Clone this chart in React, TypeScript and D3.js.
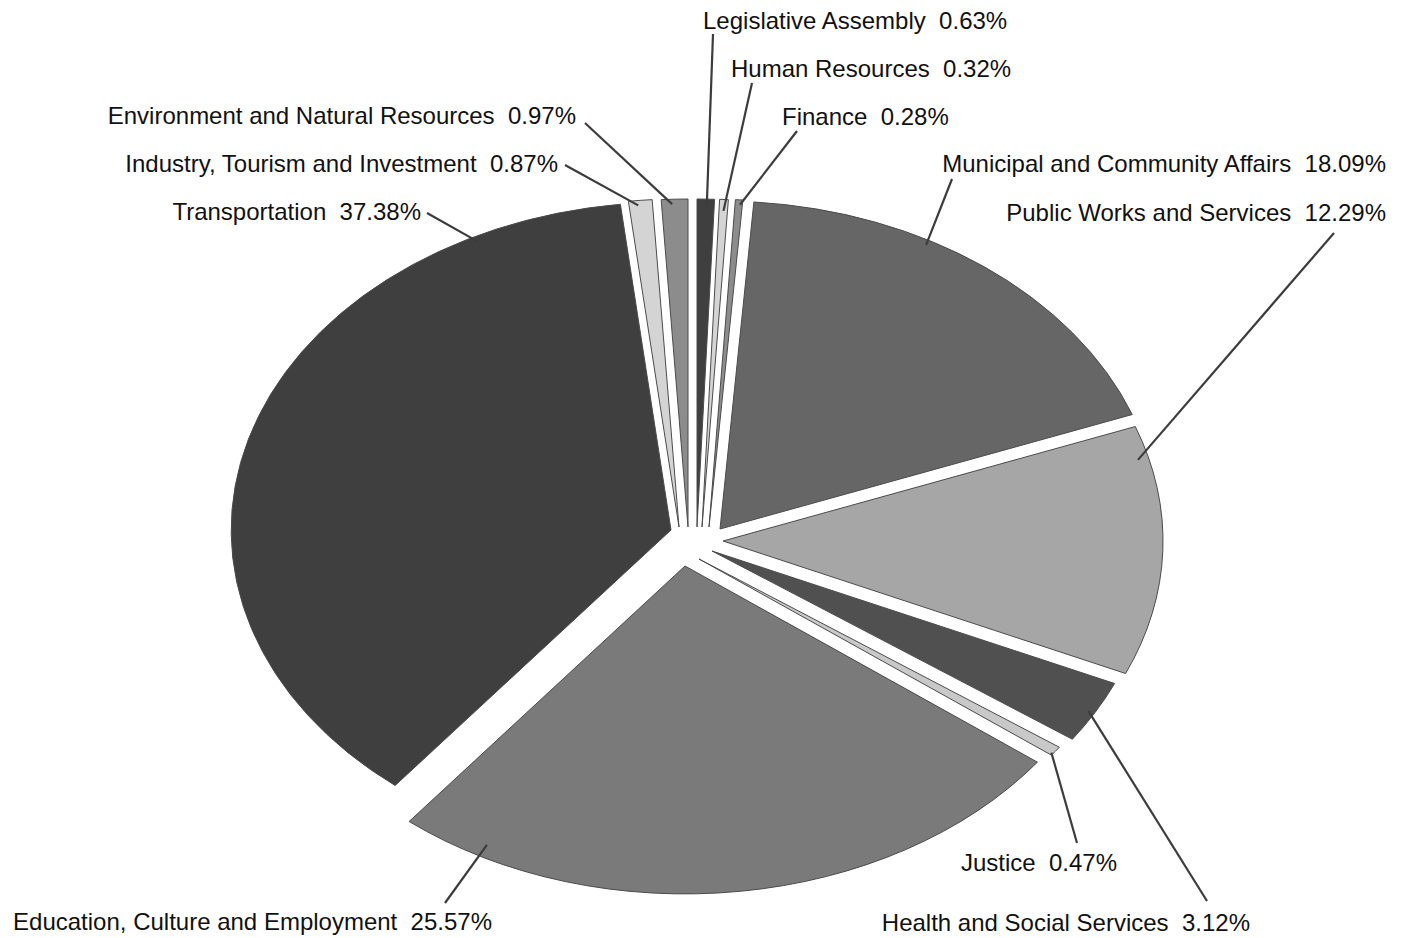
import React from 'react';
import * as d3 from 'd3';

// ---- data ----
const categories: string[] = [
  'Legislative Assembly',
  'Human Resources',
  'Finance',
  'Municipal and Community Affairs',
  'Public Works and Services',
  'Health and Social Services',
  'Justice',
  'Education, Culture and Employment',
  'Transportation',
  'Industry, Tourism and Investment',
  'Environment and Natural Resources',
];
const shares: number[] = [0.63, 0.32, 0.28, 18.09, 12.29, 3.12, 0.47, 25.57, 37.38, 0.87, 0.97];
const percentLabels: string[] = ['0.63%', '0.32%', '0.28%', '18.09%', '12.29%', '3.12%', '0.47%', '25.57%', '37.38%', '0.87%', '0.97%'];

// ---- style / layout ----
const palette = ['#3f3f3f', '#d4d4d4', '#8c8c8c', '#666666', '#a6a6a6', '#505050', '#c8c8c8', '#7a7a7a'];
const W = 1407;
const H = 938;
const CX = 697;
const CY = 540;
const RX = 440;
const RY = 328;
// per-slice explosion offsets (px) from the pie centre
const explode: [number, number][] = [
  [0, -13], [5, -13], [12, -13], [23, -11], [26, 1], [15, 11], [2, 19], [-12, 26], [-26, -10], [-18, -13], [-9, -13],
];
// label placement: text pos, anchor, leader start, leader end (angle deg within slice, radius fraction)
const labelLayout = [
  { x: 703, y: 29, anchor: 'start', lx: 713, ly: 34, deg: 1.3, r: 0.98 },
  { x: 731, y: 77, anchor: 'start', lx: 752, ly: 83, deg: 2.9, r: 0.965 },
  { x: 782, y: 125, anchor: 'start', lx: 797, ly: 131, deg: 4.1, r: 0.985 },
  { x: 1386, y: 172, anchor: 'end', lx: 952, ly: 179, deg: 28.4, r: 0.985 },
  { x: 1386, y: 221, anchor: 'end', lx: 1334, ly: 233, deg: 75.3, r: 0.975 },
  { x: 1250, y: 931, anchor: 'end', lx: 1207, ly: 901, deg: 119.7, r: 0.985 },
  { x: 1117, y: 871, anchor: 'end', lx: 1077, ly: 843, deg: 126.4, r: 0.995 },
  { x: 492, y: 930, anchor: 'end', lx: 445, ly: 903, deg: 207.9, r: 0.962 },
  { x: 421, y: 220, anchor: 'end', lx: 427, ly: 213, deg: 333.4, r: 0.985 },
  { x: 558, y: 172, anchor: 'end', lx: 565, ly: 165, deg: 354.6, r: 0.985 },
  { x: 576, y: 124, anchor: 'end', lx: 585, ly: 123, deg: 357.9, r: 0.985 },
];

export default function App() {
  const pie = d3
    .pie<number>()
    .sort(null)
    .value((d) => d)
    .startAngle(0)
    .endAngle(2 * Math.PI);
  const arcs = pie(shares);
  const arc = d3.arc<d3.PieArcDatum<number>>().innerRadius(0).outerRadius(1);

  return (
    <svg
      width={W}
      height={H}
      style={{ position: 'absolute', left: 0, top: 0, background: '#fff' }}
      fontFamily="'Liberation Sans', Arial, Helvetica, sans-serif"
    >
      <g>
        {arcs.map((a, i) => {
          const sx = CX + explode[i][0];
          const sy = CY + explode[i][1];
          return (
            <path
              key={categories[i]}
              d={arc(a) || ''}
              transform={`translate(${sx},${sy}) scale(${RX},${RY})`}
              fill={palette[i % palette.length]}
              stroke="#4a4a4a"
              strokeWidth={1}
              vectorEffect="non-scaling-stroke"
              strokeLinejoin="miter"
            />
          );
        })}
      </g>
      <g>
        {arcs.map((a, i) => {
          const L = labelLayout[i];
          const sx = CX + explode[i][0];
          const sy = CY + explode[i][1];
          const th = (L.deg * Math.PI) / 180;
          const ex = sx + RX * L.r * Math.sin(th);
          const ey = sy - RY * L.r * Math.cos(th);
          return (
            <g key={categories[i]}>
              <line x1={L.lx} y1={L.ly} x2={ex} y2={ey} stroke="#3c3c3c" strokeWidth={2.2} />
              <text
                x={L.x}
                y={L.y}
                textAnchor={L.anchor as any}
                fontSize={24}
                fill="#111"
                style={{ whiteSpace: 'pre' }}
              >
                {`${categories[i]}  ${percentLabels[i]}`}
              </text>
            </g>
          );
        })}
      </g>
    </svg>
  );
}
